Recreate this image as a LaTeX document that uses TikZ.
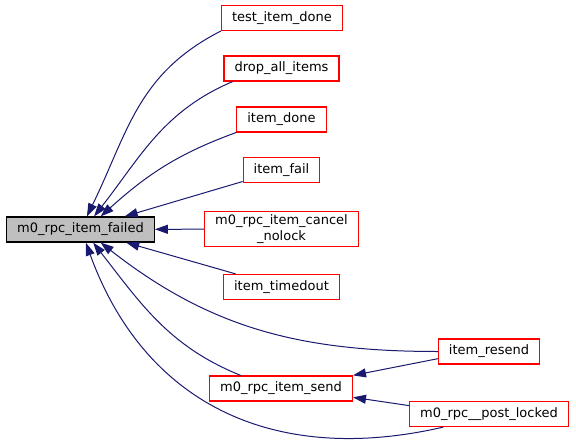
\documentclass[tikz,border=0pt]{standalone}
\usepackage{fontspec}
\setmainfont{DejaVu Sans}
\usetikzlibrary{arrows.meta}
\definecolor{edgeblue}{HTML}{191970}
\definecolor{curgray}{HTML}{BFBFBF}

\begin{document}
\begin{tikzpicture}[x=1pt,y=1pt,
  fn/.style={draw=red, fill=white, line width=1.2pt, minimum height=25pt,
             inner xsep=10.5pt, inner ysep=3pt, align=center,
             font=\fontsize{13}{15.5}\selectfont},
  cur/.style={fn, draw=black, fill=curgray},
  arr/.style={-{Triangle[length=13pt,width=9pt]}, draw=edgeblue, line width=1pt}]
\useasboundingbox (0,0) rectangle (576,-447);
% ---- the function itself ----
\node[cur] (failed)     at (80.5,-229.5) {m0\_rpc\_item\_failed};
% ---- direct callers ----
\node[fn] (testdone)    at (282,-18)     {test\_item\_done};
\node[fn] (dropall)     at (281.5,-68.5) {drop\_all\_items};
\node[fn] (itemdone)    at (281.5,-119.5) {item\_done};
\node[fn] (itemfail)    at (281.5,-170)  {item\_fail};
\node[fn] (cancel)      at (281.5,-229)  {m0\_rpc\_item\_cancel\\\_nolock};
\node[fn] (timedout)    at (281.5,-287)  {item\_timedout};
\node[fn] (send)        at (281,-388.5)  {m0\_rpc\_item\_send};
% ---- second level ----
\node[fn] (resend)      at (489,-351.5)  {item\_resend};
\node[fn] (postlocked)  at (489,-414)    {m0\_rpc\_\_post\_locked};
% ---- calls into m0_rpc_item_failed ----
\draw[arr] (testdone.192) to[out=207,in=64,looseness=1.05] (failed.64);
\draw[arr] (dropall.195)  to[out=203,in=52] (failed.44);
\draw[arr] (itemdone.196) to[out=200,in=42] (failed.33);
\draw[arr] (itemfail) -- (failed);
\draw[arr] (cancel)   -- (failed);
\draw[arr] (timedout) -- (failed);
\draw[arr] (resend.west)     to[out=180,in=-38] (failed.-33);
\draw[arr] (send.162)        to[out=158,in=-52] (failed.-46);
\draw[arr] (postlocked.196)  to[out=193,in=-70,looseness=1.1] (failed.-68);
% ---- calls into m0_rpc_item_send ----
\draw[arr] (resend.188)     -- (send.north east);
\draw[arr] (postlocked.174) -- (send.-7);
\end{tikzpicture}
\end{document}
